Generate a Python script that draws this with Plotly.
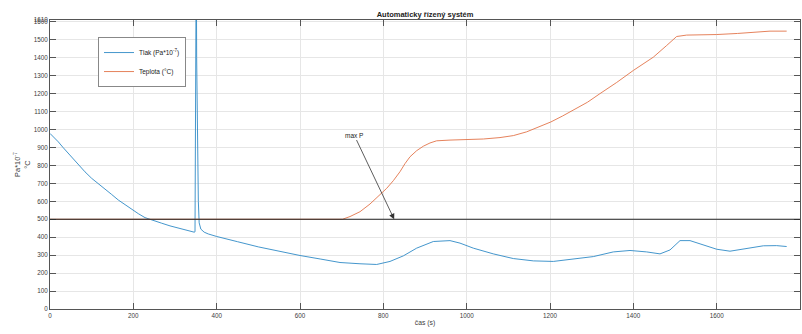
import plotly.graph_objects as go

# Pressure (Pa*10^-7) samples: time [s], value
tlak_t = [0, 10, 20, 32, 44, 56, 68, 84, 100, 116, 132, 148, 164, 180, 196, 212,
          228, 248, 268, 288, 308, 328, 346, 348, 350, 351, 352, 354, 356, 358,
          362, 370, 380, 400, 420, 450, 500, 550, 600, 650, 696, 744, 784, 816,
          848, 880, 920, 960, 984, 1016, 1064, 1112, 1160, 1208, 1256, 1304,
          1352, 1392, 1432, 1464, 1488, 1512, 1536, 1568, 1600, 1632, 1672,
          1712, 1744, 1768]
tlak_v = [978, 955, 931, 898, 867, 833, 802, 764, 728, 699, 672, 638, 607, 580,
          555, 531, 509, 492, 478, 463, 450, 439, 428, 430, 1200, 2000, 1400,
          900, 600, 480, 445, 428, 418, 404, 394, 375, 346, 320, 298, 278, 259,
          252, 248, 265, 296, 339, 376, 381, 367, 339, 307, 281, 268, 265, 278,
          292, 318, 326, 318, 307, 329, 381, 381, 357, 333, 322, 335, 352, 353,
          348]

# Temperature (°C) samples: time [s], value
teplota_t = [0, 696, 702, 720, 744, 768, 792, 808, 824, 840, 852, 864, 880, 896,
             912, 928, 960, 1000, 1040, 1080, 1112, 1144, 1172, 1202, 1230,
             1256, 1290, 1320, 1360, 1400, 1448, 1480, 1504, 1528, 1560, 1600,
             1650, 1696, 1728, 1768]
teplota_v = [500, 500, 500, 515, 542, 585, 635, 672, 715, 765, 810, 848, 882,
             907, 925, 937, 941, 944, 947, 955, 966, 987, 1012, 1042, 1075,
             1107, 1152, 1200, 1262, 1329, 1403, 1468, 1518, 1526, 1527, 1529,
             1535, 1541, 1548, 1548]

THRESHOLD = 500
X_TICKS = list(range(0, 1801, 200))
Y_TICKS = list(range(0, 1601, 100)) + [1610]

FONT = "Liberation Sans, Arial, Helvetica, sans-serif"
AXIS_COLOR = "#555555"
TEXT_COLOR = "#404040"
GRID_COLOR = "#e6e6e6"

fig = go.Figure()
fig.add_trace(go.Scatter(
    x=tlak_t, y=tlak_v, mode="lines", name="Tlak (Pa*10<sup>-7</sup>)",
    legendgroup="tlak", line=dict(color="#2f8ac6", width=0.9)))
fig.add_trace(go.Scatter(
    x=teplota_t, y=teplota_v, mode="lines", name="Teplota (°C)",
    legendgroup="teplota", line=dict(color="#e2744a", width=0.9)))

fig.add_hline(y=THRESHOLD, line=dict(color="#222222", width=1))

fig.add_annotation(
    x=826, y=THRESHOLD, ax=730, ay=969, xref="x", yref="y", axref="x", ayref="y",
    text="max P", showarrow=True, arrowhead=2, arrowsize=1.4, arrowwidth=0.8,
    arrowcolor="#333333", standoff=0,
    font=dict(family=FONT, size=6.5, color="#222222"))

axis_common = dict(
    showline=True, linecolor=AXIS_COLOR, linewidth=1, mirror="ticks",
    ticks="inside", ticklen=6, tickcolor=AXIS_COLOR, tickwidth=1,
    showgrid=True, gridcolor=GRID_COLOR, gridwidth=1, zeroline=False,
    tickfont=dict(family=FONT, size=6.3, color=TEXT_COLOR), automargin=False)

fig.update_xaxes(
    range=[0, 1800], tickmode="array", tickvals=X_TICKS,
    title=dict(text="čas (s)", standoff=2,
               font=dict(family=FONT, size=6.8, color=TEXT_COLOR)),
    **axis_common)
fig.update_yaxes(
    range=[0, 1610], tickmode="array", tickvals=Y_TICKS,
    title=dict(text="Pa*10<sup>-7</sup><br>°C", standoff=2,
               font=dict(family=FONT, size=7.4, color=TEXT_COLOR)),
    **axis_common)

fig.update_layout(
    width=802, height=334,
    margin=dict(l=50, r=2, t=20, b=25),
    paper_bgcolor="white", plot_bgcolor="white",
    title=dict(text="<b>Automaticky řízený systém</b>", x=0.53, xanchor="center",
               y=1 - 14 / 334, yanchor="middle",
               font=dict(family=FONT, size=7.5, color="#222222")),
    showlegend=True,
    legend=dict(x=0.064, y=0.941, xanchor="left", yanchor="top",
                bgcolor="white", bordercolor="#888888", borderwidth=1,
                tracegroupgap=0, itemwidth=30,
                font=dict(family=FONT, size=6.5, color="#222222")),
)

fig.write_html("out.html")
